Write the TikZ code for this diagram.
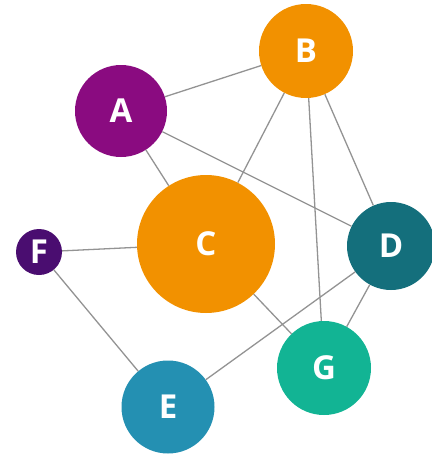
\documentclass[tikz,border=0pt]{standalone}
\usepackage{fontspec}
\setsansfont{Open Sans}
\usepackage{tikz}

\definecolor{purpA}{HTML}{8A0B80}
\definecolor{orangeB}{HTML}{F29100}
\definecolor{tealD}{HTML}{146F7C}
\definecolor{indigoF}{HTML}{4A0D70}
\definecolor{greenG}{HTML}{12B494}
\definecolor{blueE}{HTML}{2490B2}

\begin{document}
\begin{tikzpicture}[x=1pt,y=-1pt,
  vertex/.style={circle, inner sep=0pt, text=white, font=\sffamily\bfseries\fontsize{33}{33}\selectfont},
  link/.style={gray!85, line width=1.3pt}]
  \useasboundingbox (0,0) rectangle (431,455);
   \node[vertex, fill=purpA, minimum size=92pt] (A) at (121,111) {A};
   \node[vertex, fill=orangeB, minimum size=94pt] (B) at (306,51) {B};
   \node[vertex, fill=orangeB, minimum size=138pt] (C) at (206,244) {C};
   \node[vertex, fill=tealD, minimum size=88pt] (D) at (391,246) {D};
   \node[vertex, fill=indigoF, minimum size=46pt] (F) at (39,252) {F};
   \node[vertex, fill=greenG, minimum size=94pt] (G) at (324,368) {G};
   \node[vertex, fill=blueE, minimum size=93pt] (E) at (168,407) {E};
   % links
   \draw[link] (A) -- (B);
   \draw[link] (A) -- (C);
   \draw[link] (A) -- (D);
   \draw[link] (B) -- (C);
   \draw[link] (B) -- (G);
   \draw[link] (B) -- (D);
   \draw[link] (F) -- (C);
   \draw[link] (F) -- (E);
   \draw[link] (C) -- (G);
   \draw[link] (E) -- (D);
   \draw[link] (D) -- (G);
   \end{tikzpicture}
\end{document}
